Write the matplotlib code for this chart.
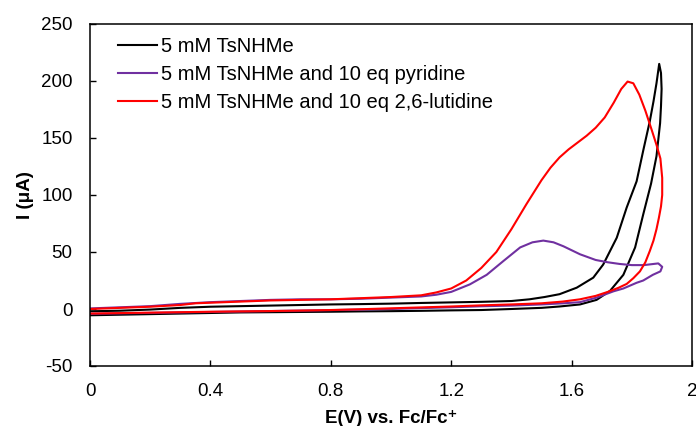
import matplotlib
matplotlib.use("Agg")
import matplotlib.pyplot as plt

plt.rcParams['font.family'] = ['Liberation Sans', 'DejaVu Sans']
plt.rcParams['axes.unicode_minus'] = False

# 5 mM TsNHMe (forward scan then reverse scan)
bk_x = [0, 0.1, 0.2, 0.3, 0.4, 0.5, 0.6, 0.7, 0.8, 0.9, 1.0, 1.1, 1.2, 1.3, 1.4, 1.46, 1.51, 1.56,
        1.617, 1.672, 1.705, 1.75, 1.783, 1.816, 1.838, 1.86, 1.872, 1.882, 1.891,
        1.897, 1.899, 1.897, 1.894, 1.882, 1.864, 1.838, 1.811, 1.772, 1.728, 1.683, 1.628, 1.56,
        1.5, 1.4, 1.3, 1.2, 1.1, 1.0, 0.9, 0.8, 0.7, 0.6, 0.5, 0.4, 0.3, 0.2, 0.1, 0]
bk_y = [-2, -1.5, -0.5, 1, 2, 2.5, 3, 3.5, 4, 4.3, 4.7, 5.3, 5.8, 6.3, 7, 8.5, 10.5, 13,
        18.7, 27.5, 39, 62.5, 89, 112, 139, 165, 182, 198, 215,
        207, 193, 178, 163, 134, 110, 83, 54, 30, 16, 8, 4, 2.2,
        1, 0, -0.9, -1.2, -1.6, -1.9, -2.1, -2.4, -2.6, -2.8, -3, -3.5, -4, -4.5, -5, -5.5]

# 5 mM TsNHMe and 10 eq pyridine
py_x = [0, 0.1, 0.2, 0.3, 0.4, 0.5, 0.6, 0.7, 0.8, 0.9, 1.0, 1.1, 1.15, 1.2, 1.262, 1.318, 1.373,
        1.429, 1.47, 1.506, 1.54, 1.573, 1.628, 1.68, 1.72, 1.76, 1.80, 1.84, 1.888, 1.901,
        1.895, 1.87, 1.838, 1.816, 1.772, 1.739, 1.683, 1.628, 1.573, 1.5, 1.4, 1.3, 1.2, 1.1,
        1.0, 0.9, 0.8, 0.7, 0.6, 0.5, 0.4, 0.3, 0.2, 0.1, 0]
py_y = [0.5, 1.5, 2.5, 4.5, 6, 7, 8, 8.5, 8.5, 9, 10, 11, 12.5, 15, 21.6, 30, 42,
        54, 58.5, 60, 58.5, 55, 48, 43, 41, 39.5, 38.5, 38.5, 40, 37,
        33, 30, 25, 23, 18, 15.5, 10, 6, 5, 4, 3, 2.4, 1.5, 0.8,
        0, -0.5, -1, -1.4, -1.8, -2.2, -2.6, -3, -3.4, -3.8, -4.2]

# 5 mM TsNHMe and 10 eq 2,6-lutidine
lu_x = [0, 0.1, 0.2, 0.3, 0.35, 0.4, 0.5, 0.6, 0.7, 0.8, 0.9, 1.0, 1.1, 1.15, 1.2, 1.25, 1.3, 1.35,
        1.4, 1.45, 1.5, 1.53, 1.56, 1.59, 1.62, 1.65, 1.68, 1.71, 1.74, 1.765, 1.786, 1.805, 1.825,
        1.845, 1.865, 1.882, 1.895, 1.901,
        1.901, 1.897, 1.89, 1.882, 1.872, 1.86, 1.845, 1.827, 1.805, 1.783, 1.755, 1.72, 1.68, 1.628,
        1.57, 1.5, 1.4, 1.3, 1.2, 1.1, 1.0, 0.9, 0.8, 0.7, 0.6, 0.5, 0.4, 0.3, 0.2, 0.1, 0]
lu_y = [0, 1, 2, 3.5, 5, 5.5, 6.5, 7.5, 8, 8.5, 9.5, 10.5, 12, 14.5, 18, 25, 36, 50,
        70, 92, 113, 124, 133, 140, 146, 152, 159, 168, 181, 193, 199.5, 198, 188,
        174, 158, 144, 132, 115,
        100, 90, 80, 70, 60, 51, 41, 33, 27, 22, 18.5, 15, 11.5, 8.5,
        6.5, 5, 4, 3.2, 2.2, 1.4, 0.6, -0.2, -0.9, -1.4, -1.8, -2.1, -2.4, -2.8, -3.2, -3.6, -4]

labels = ['5 mM TsNHMe', '5 mM TsNHMe and 10 eq pyridine', '5 mM TsNHMe and 10 eq 2,6-lutidine']
colors = ['black', '#7030A0', '#FF0000']
x_ticks = [0, 0.4, 0.8, 1.2, 1.6, 2.0]
x_ticklabels = ['0', '0.4', '0.8', '1.2', '1.6', '2']
y_ticks = [-50, 0, 50, 100, 150, 200, 250]

fig = plt.figure(figsize=(6.96, 4.26), dpi=100)
ax = fig.add_axes([90 / 696, 1 - 366 / 426, 602 / 696, 342 / 426])

for xs, ys, c, lab in zip([bk_x, py_x, lu_x], [bk_y, py_y, lu_y], colors, labels):
    ax.plot(xs, ys, color=c, lw=1.5, label=lab, solid_joinstyle='round')

ax.set_xlim(0, 2)
ax.set_ylim(-50, 250)
ax.set_xticks(x_ticks)
ax.set_xticklabels(x_ticklabels)
ax.set_yticks(y_ticks)
ax.tick_params(direction='in', length=4, width=1, labelsize=13.5, pad=12.5)
for s in ax.spines.values():
    s.set_linewidth(1.1)

ax.set_xlabel('E(V) vs. Fc/Fc⁺', fontsize=13.5, fontweight='bold')
ax.set_ylabel('I (μA)', fontsize=13.5, fontweight='bold')
ax.xaxis.set_label_coords(0.5, -0.128)
ax.yaxis.set_label_coords(-0.093, 0.5)

ax.legend(loc='upper left', bbox_to_anchor=(0.046, 0.962), frameon=False, fontsize=14.5,
          handlelength=1.95, handletextpad=0.2, labelspacing=0.45, borderpad=0, borderaxespad=0)

fig.savefig('out.png', dpi=100)
